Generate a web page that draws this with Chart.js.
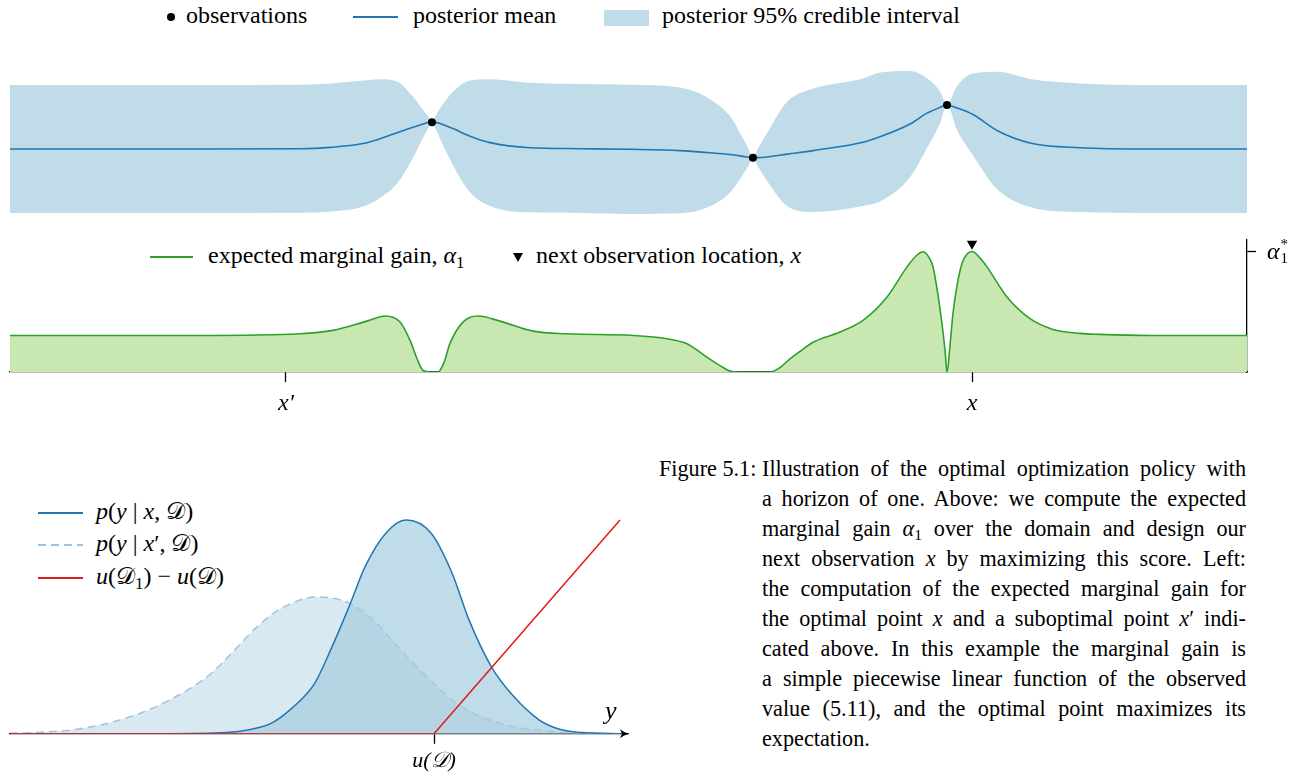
<!DOCTYPE html>
<html>
<head>
<meta charset="utf-8">
<title>Optimal policy, horizon one</title>
<script src="https://cdn.jsdelivr.net/npm/chart.js@4.4.1/dist/chart.umd.min.js"></script>
<style>
  body { margin: 0; width: 1303px; height: 776px; position: relative; overflow: hidden; background: #fff;
         font-family: 'Liberation Serif', 'DejaVu Serif', serif; color: #000; }
  canvas { position: absolute; }
  .lg { position: absolute; font-size: 24px; line-height: 24px; white-space: nowrap; }
  .sym { position: absolute; }
  sub { font-size: 0.7em; vertical-align: -0.28em; line-height: 0; }
  .cap { position: absolute; left: 762px; top: 454px; width: 484px; font-size: 22.2px; line-height: 30px; }
  .cap div { text-align: justify; text-align-last: justify; white-space: nowrap; height: 30px; }
  .cap div.last { text-align-last: left; }
  .fig { position: absolute; left: 659px; top: 454px; font-size: 22.2px; line-height: 30px; }
</style>
</head>
<body>

<!-- legend, posterior panel -->
<div class="sym" style="left:167px;top:13px;width:8px;height:8px;border-radius:50%;background:#000"></div>
<div class="lg" style="left:186px;top:3px">observations</div>
<div class="sym" style="left:353px;top:16px;width:45px;height:1.6px;background:#1f77b4"></div>
<div class="lg" style="left:413px;top:3px">posterior mean</div>
<div class="sym" style="left:604px;top:10px;width:45px;height:16px;background:#c1dce9"></div>
<div class="lg" style="left:662px;top:3px">posterior 95% credible interval</div>

<canvas id="posterior" width="1303" height="170" style="left:0;top:60px"></canvas>

<!-- legend, acquisition panel -->
<div class="sym" style="left:150px;top:256px;width:43px;height:1.6px;background:#2ca02c"></div>
<div class="lg" style="left:208px;top:243px">expected marginal gain, <i>α</i><sub>1</sub></div>
<div class="sym" style="left:513px;top:253px;width:0;height:0;border-left:5px solid transparent;border-right:5px solid transparent;border-top:9px solid #000"></div>
<div class="lg" style="left:536px;top:243px">next observation location, <i>x</i></div>

<canvas id="acquisition" width="1303" height="198" style="left:0;top:230px"></canvas>
<div class="lg" style="left:1267px;top:237px"><i>α</i><span style="display:inline-block;vertical-align:-4px;font-size:15px;line-height:14px;margin-left:1px">*<br>1</span></div>

<!-- legend, predictive densities -->
<div class="sym" style="left:38px;top:512px;width:45px;height:1.6px;background:#1f77b4"></div>
<div class="lg" style="left:96px;top:499px"><i>p</i>(<i>y</i> | <i>x</i>, 𝒟)</div>
<div class="sym" style="left:38px;top:544px;width:45px;height:1.6px;background:repeating-linear-gradient(90deg,#9dc3e0 0 8px,transparent 8px 13px)"></div>
<div class="lg" style="left:96px;top:531px"><i>p</i>(<i>y</i> | <i>x</i>′, 𝒟)</div>
<div class="sym" style="left:38px;top:577px;width:45px;height:1.6px;background:#e41a1c"></div>
<div class="lg" style="left:96px;top:564px"><i>u</i>(𝒟<sub>1</sub>) − <i>u</i>(𝒟)</div>

<canvas id="densities" width="650" height="300" style="left:0;top:480px"></canvas>
<div class="lg" style="left:605px;top:699px;font-size:26px"><i>y</i></div>

<div class="fig">Figure 5.1:</div>
<div class="cap">
  <div>Illustration of the optimal optimization policy with</div>
  <div>a horizon of one. Above: we compute the expected</div>
  <div>marginal gain <i>α</i><sub>1</sub> over the domain and design our</div>
  <div>next observation <i>x</i> by maximizing this score. Left:</div>
  <div>the computation of the expected marginal gain for</div>
  <div>the optimal point <i>x</i> and a suboptimal point <i>x</i>′ indi-</div>
  <div>cated above. In this example the marginal gain is</div>
  <div>a simple piecewise linear function of the observed</div>
  <div>value (5.11), and the optimal point maximizes its</div>
  <div class="last">expectation.</div>
</div>

<script>
// domain runs from 0 to 10
const gpX = [0, 1.536, 2.344, 2.587, 2.854, 2.991, 3.129, 3.258, 3.339, 3.379, 3.411, 3.444, 3.476, 3.581,
  3.719, 3.880, 4.204, 4.608, 5.012, 5.416, 5.635, 5.821, 5.926, 5.966, 6.006, 6.047, 6.120, 6.281, 6.492,
  6.896, 7.033, 7.276, 7.413, 7.518, 7.575, 7.656, 7.785, 7.979, 8.246, 8.650, 9.216, 10];
const postMean = [0, 0, 0.01, 0.05, 0.17, 0.32, 0.51, 0.68, 0.78, 0.83, 0.834, 0.825, 0.80, 0.64,
  0.40, 0.20, 0.04, 0.01, -0.01, -0.05, -0.11, -0.17, -0.23, -0.26, -0.272, -0.27, -0.25, -0.16, -0.05,
  0.21, 0.38, 0.78, 1.12, 1.30, 1.375, 1.28, 1.08, 0.58, 0.19, 0.04, 0, 0];
const postUpper = [2.0, 2.0, 2.01, 2.05, 2.14, 2.18, 2.11, 1.63, 1.22, 1.03, 0.834, 1.06, 1.27, 1.79,
  2.14, 2.18, 2.07, 2.03, 2.01, 1.92, 1.61, 1.02, 0.33, 0.04, -0.272, 0.02, 0.5, 1.47, 1.88,
  2.20, 2.39, 2.44, 2.21, 1.80, 1.375, 1.97, 2.36, 2.41, 2.19, 2.05, 2.0, 2.0];
const postLower = [-2.0, -2.0, -1.99, -1.96, -1.80, -1.53, -1.08, -0.27, 0.35, 0.63, 0.834, 0.59, 0.33, -0.51,
  -1.35, -1.78, -1.98, -2.0, -2.03, -2.01, -1.83, -1.36, -0.80, -0.55, -0.272, -0.55, -1.0, -1.78, -1.97,
  -1.78, -1.64, -0.88, 0.03, 0.80, 1.375, 0.59, -0.20, -1.25, -1.81, -1.97, -2.0, -2.0];
const obsX = [3.411, 6.006, 7.575];
const obsY = [0.834, -0.272, 1.375];

// expected marginal gain, scaled so that its maximum is 1
const acqX = [0, 1.536, 2.344, 2.611, 2.886, 3.032, 3.153, 3.234, 3.290, 3.339, 3.395, 3.460, 3.508, 3.557,
  3.662, 3.783, 3.961, 4.228, 4.503, 5.036, 5.311, 5.473, 5.635, 5.740, 5.821, 5.901, 6.144, 6.225, 6.306,
  6.386, 6.492, 6.710, 6.896, 7.090, 7.252, 7.324, 7.381, 7.437, 7.462, 7.502, 7.534, 7.559, 7.575, 7.599,
  7.623, 7.656, 7.696, 7.737, 7.777, 7.842, 7.898, 8.060, 8.246, 8.432, 8.650, 8.812, 9.216, 10];
const acqY = [0.304, 0.304, 0.318, 0.346, 0.423, 0.465, 0.415, 0.263, 0.113, 0.013, 0, 0, 0.079, 0.238,
  0.415, 0.465, 0.423, 0.340, 0.318, 0.304, 0.277, 0.235, 0.123, 0.054, 0.008, 0, 0, 0.038, 0.110,
  0.171, 0.248, 0.332, 0.429, 0.623, 0.873, 0.963, 0.998, 0.938, 0.873, 0.638, 0.402, 0.179, 0, 0.220,
  0.485, 0.720, 0.902, 0.980, 1.0, 0.946, 0.873, 0.623, 0.443, 0.354, 0.321, 0.313, 0.304, 0.304];
const xPrime = 2.231; // suboptimal point x′
const xNext = 7.777;  // argmax of the gain
const markerY = 1.065;

// predictive densities of y, with u(D) at 0
const optX = [-4.24, -2.84, -2.14, -1.94, -1.74, -1.64, -1.54, -1.44, -1.34, -1.19, -1.02, -0.85, -0.69,
  -0.48, -0.28, -0.03, 0.18, 0.35, 0.58, 0.80, 1.05, 1.21, 1.39, 1.66, 1.94];
const optDensity = [0, 0, 0.01, 0.025, 0.065, 0.10, 0.16, 0.24, 0.33, 0.51, 0.87, 1.27, 1.67,
  2.01, 2.14, 2.01, 1.61, 1.14, 0.66, 0.37, 0.14, 0.06, 0.02, 0.005, 0];
const subX = [-4.24, -3.93, -3.54, -3.10, -2.68, -2.27, -2.02, -1.77, -1.52, -1.17, -0.85, -0.61, -0.36,
  -0.11, 0.22, 0.64, 1.22, 1.66, 1.94];
const subDensity = [0.005, 0.015, 0.05, 0.15, 0.32, 0.57, 0.81, 1.07, 1.26, 1.37, 1.31, 1.14, 0.87,
  0.61, 0.31, 0.11, 0.02, 0.005, 0];
const gainX = [-4.24, 0, 1.86];
const gainY = [0, 0, 2.14];

const pts = (xs, ys) => xs.map((x, i) => ({ x: x, y: ys[i] }));
const serif = "'Liberation Serif', 'DejaVu Serif', serif";
Chart.defaults.font.family = serif;
Chart.defaults.animation = false;
Chart.defaults.plugins.legend.display = false;
Chart.defaults.plugins.tooltip.enabled = false;

const clear = 'rgba(0,0,0,0)';

new Chart(document.getElementById('posterior'), {
    type: 'line',
    data: {
        datasets: [
            { type: 'scatter', data: pts(obsX, obsY), pointRadius: 4, backgroundColor: '#000', borderWidth: 0, clip: false, order: 0 },
            { data: pts(gpX, postMean), borderColor: '#1f77b4', borderWidth: 1.6, pointRadius: 0,
              cubicInterpolationMode: 'monotone', order: 1 },
            { data: pts(gpX, postUpper), borderColor: clear, borderWidth: 0, pointRadius: 0, fill: '+1',
              backgroundColor: '#c1dce9', cubicInterpolationMode: 'monotone', order: 2 },
            { data: pts(gpX, postLower), borderColor: clear, borderWidth: 0, pointRadius: 0,
              cubicInterpolationMode: 'monotone', order: 3 }
        ]
    },
    options: {
        responsive: false,
        layout: { autoPadding: false, padding: { left: 10, right: 56, top: 0, bottom: 0 } },
        scales: {
            x: { type: 'linear', display: false, min: 0, max: 10 },
            y: { display: false, min: -2.531, max: 2.781 }
        }
    }
});

new Chart(document.getElementById('acquisition'), {
    type: 'line',
    data: {
        datasets: [
            { type: 'scatter', data: [{ x: xNext, y: markerY }], pointStyle: 'triangle', rotation: 180,
              pointRadius: 6, backgroundColor: '#000', borderWidth: 0, clip: false, order: 0 },
            { data: pts(acqX, acqY), borderColor: '#2ca02c', borderWidth: 1.6, pointRadius: 0,
              fill: 'origin', backgroundColor: '#c9e8b1', cubicInterpolationMode: 'monotone', order: 1 }
        ]
    },
    options: {
        responsive: false,
        layout: { padding: { left: 10, right: 47, top: 10, bottom: 2.1 } },
        scales: {
            x: {
                type: 'linear', min: 0, max: 10, z: 1,
                afterBuildTicks: (axis) => { axis.ticks = [{ value: xPrime }, { value: xNext }]; },
                ticks: { callback: (v, i) => ['x′', 'x'][i], color: '#000', padding: 7.5, maxRotation: 0,
                         autoSkip: false, font: { family: serif, style: 'italic', size: 24 } },
                grid: { drawOnChartArea: false, tickLength: 10, tickColor: '#000', tickWidth: 1.3 },
                border: { color: '#000', width: 1.3 }
            },
            y: {
                position: 'right', min: 0, max: 1.096, z: 1,
                afterBuildTicks: (axis) => { axis.ticks = [{ value: 1 }]; },
                ticks: { display: false },
                grid: { drawOnChartArea: false, tickLength: 9, tickColor: '#000', tickWidth: 1.3 },
                border: { color: '#000', width: 1.3 }
            }
        }
    }
});

// arrow tip on the y axis of the lower panel
const arrowHead = {
    id: 'arrowHead',
    afterDraw(chart) {
        const { ctx, chartArea } = chart;
        const tx = chartArea.right + 1, ty = chartArea.bottom;
        ctx.save();
        ctx.fillStyle = '#000';
        ctx.beginPath();
        ctx.moveTo(tx, ty);
        ctx.quadraticCurveTo(tx - 5, ty - 1.2, tx - 9, ty - 4.5);
        ctx.lineTo(tx - 7, ty);
        ctx.lineTo(tx - 9, ty + 4.5);
        ctx.quadraticCurveTo(tx - 5, ty + 1.2, tx, ty);
        ctx.fill();
        ctx.restore();
    }
};

new Chart(document.getElementById('densities'), {
    type: 'line',
    data: {
        datasets: [
            { data: pts(gainX, gainY), borderColor: '#e41a1c', borderWidth: 1.5, pointRadius: 0, order: 0 },
            { data: pts(optX, optDensity), borderColor: '#1f77b4', borderWidth: 1.5, pointRadius: 0,
              fill: 'origin', backgroundColor: 'rgba(165,204,223,0.69)', cubicInterpolationMode: 'monotone', order: 1 },
            { data: pts(subX, subDensity), borderColor: '#9dc3e0', borderWidth: 1.5, borderDash: [8, 5], pointRadius: 0,
              fill: 'origin', backgroundColor: '#d9e9f2', cubicInterpolationMode: 'monotone', order: 2 }
        ]
    },
    options: {
        responsive: false,
        layout: { padding: { left: 10, right: 22, top: 20, bottom: 1.4 } },
        scales: {
            x: {
                type: 'linear', min: -4.24, max: 1.94,
                afterBuildTicks: (axis) => { axis.ticks = [{ value: 0 }]; },
                ticks: { callback: () => 'u(𝒟)', color: '#000', padding: 4.2, maxRotation: 0,
                         font: { family: serif, style: 'italic', size: 22 } },
                grid: { drawOnChartArea: false, tickLength: 10, tickColor: '#000', tickWidth: 1.3 },
                border: { color: '#000', width: 1.3 }
            },
            y: { display: false, min: 0, max: 2.34 }
        }
    },
    plugins: [arrowHead]
});
</script>
</body>
</html>
